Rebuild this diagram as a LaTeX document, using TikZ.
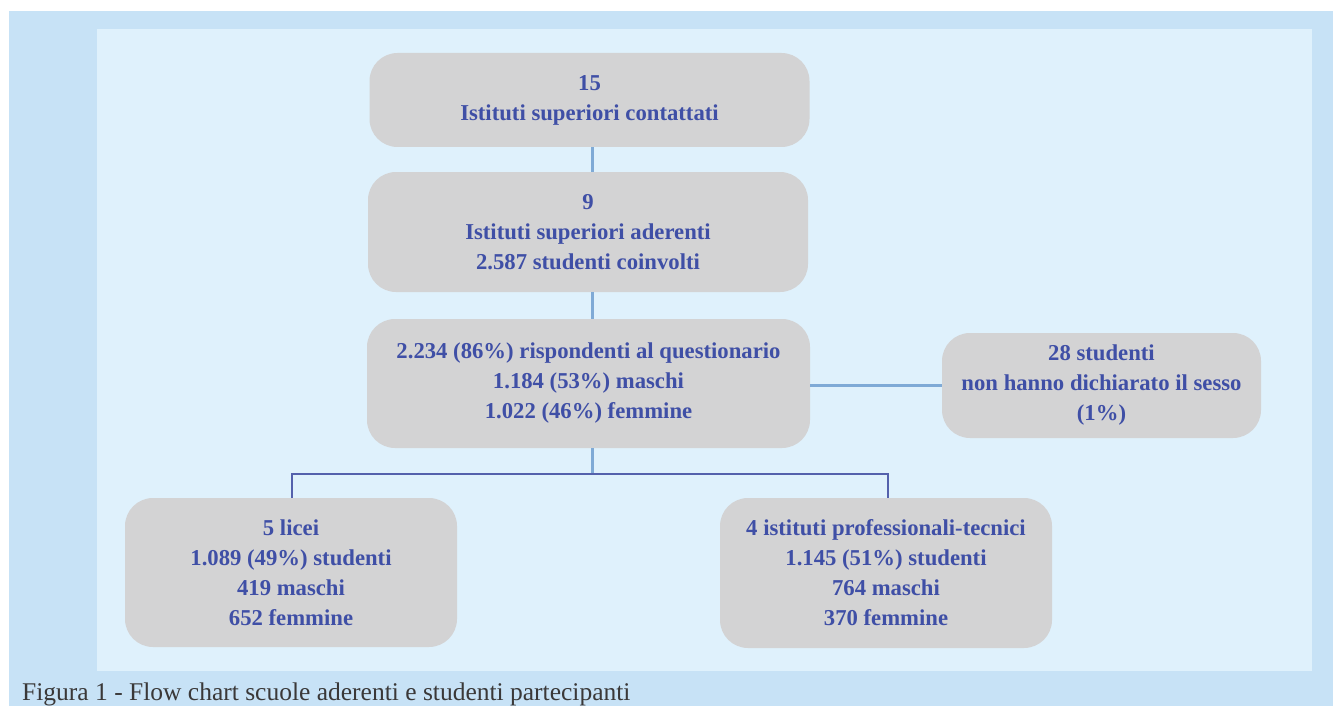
\documentclass[tikz,border=0pt]{standalone}
\usepackage{fontspec}
\setmainfont{Liberation Serif}
\definecolor{outerblue}{HTML}{C7E2F6}
\definecolor{innerblue}{HTML}{DFF1FC}
\definecolor{boxgray}{HTML}{D3D3D4}
\definecolor{txtblue}{HTML}{3F4FA6}
\definecolor{lightconn}{HTML}{7FAAD6}
\definecolor{darkconn}{HTML}{5461AC}
\definecolor{captxt}{HTML}{3A3838}
\begin{document}
\begin{tikzpicture}[x=1pt,y=-1pt,
  box/.style={fill=boxgray, rounded corners=28pt, text=txtblue,
    font=\fontsize{22.7}{30}\selectfont\bfseries, align=center, inner sep=0pt},
  lconn/.style={draw=lightconn, line width=3pt},
  dconn/.style={draw=darkconn, line width=2.4pt}]
\useasboundingbox (0,0) rectangle (1333,706);
\fill[white] (0,0) rectangle (1333,706);
\fill[outerblue] (9,11) rectangle (1333,706);
\fill[innerblue] (97,29) rectangle (1312,671);

\node[box, minimum width=440pt, minimum height=94pt] (b1) at (589.5,100)
  {15\\Istituti superiori contattati};
\node[box, minimum width=440pt, minimum height=120pt] (b2) at (588,232)
  {9\\Istituti superiori aderenti\\2.587 studenti coinvolti};
\node[box, minimum width=443pt, minimum height=129pt] (b3) at (588.5,383.5)
  {2.234 (86\%) rispondenti al questionario\\1.184 (53\%) maschi\\1.022 (46\%) femmine};
\node[box, minimum width=319pt, minimum height=105pt] (b4) at (1101.5,385.5)
  {28 studenti\\non hanno dichiarato il sesso\\(1\%)};
\node[box, minimum width=332pt, minimum height=149pt] (b5) at (291,572.5)
  {5 licei\\1.089 (49\%) studenti\\419 maschi\\652 femmine};
\node[box, minimum width=332pt, minimum height=150pt] (b6) at (886,573)
  {4 istituti professionali-tecnici\\1.145 (51\%) studenti\\764 maschi\\370 femmine};

\coordinate (cx) at (592,0);
\coordinate (hy) at (0,474);
\coordinate (lx) at (292,0);
\coordinate (rx) at (888,0);

\draw[lconn] (b1.south -| cx) -- (b2.north -| cx);
\draw[lconn] (b2.south -| cx) -- (b3.north -| cx);
\draw[lconn] (b4.west -| b3.east) -- (b4.west);
\draw[lconn] (b3.south -| cx) -- (cx |- hy);
\draw[dconn] (b5.north -| lx) -- (lx |- hy) -- (rx |- hy) -- (b6.north -| rx);

\node[anchor=base west, inner sep=0pt, text=captxt,
  font=\fontsize{25.5}{28}\selectfont] (cap) at (22,700.5)
  {Figura 1 - Flow chart scuole aderenti e studenti partecipanti};
\end{tikzpicture}
\end{document}
